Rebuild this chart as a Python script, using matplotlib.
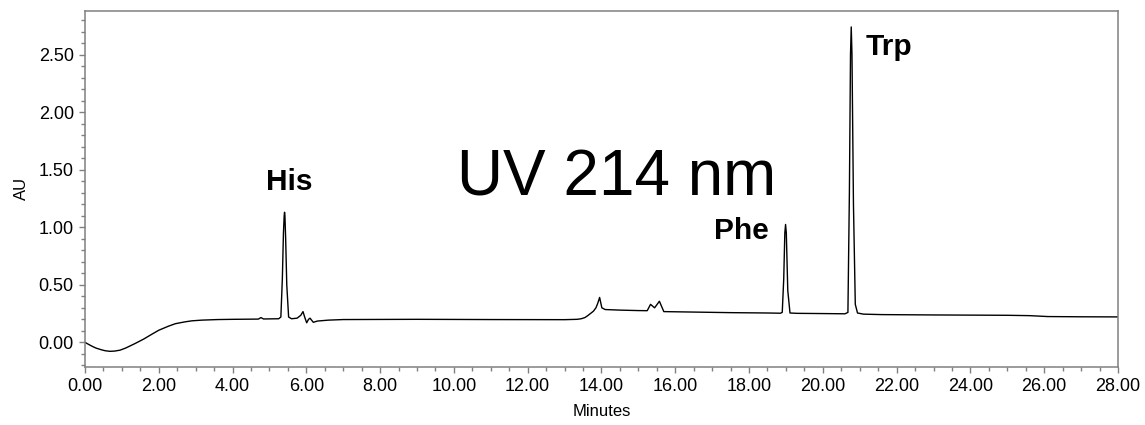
import matplotlib
matplotlib.use("Agg")
import matplotlib.pyplot as plt
from matplotlib.ticker import MultipleLocator, FormatStrFormatter

plt.rcParams['font.family'] = ['Liberation Sans', 'DejaVu Sans']

# chromatogram trace, UV 214 nm
minutes = [0.00, 0.10, 0.20, 0.30, 0.45, 0.55, 0.68, 0.80, 0.95, 1.10,
           1.36, 1.60, 1.81, 2.00, 2.26, 2.45, 2.71, 2.90, 3.17, 3.60,
           4.00, 4.70, 4.77, 4.84, 5.25, 5.31, 5.35, 5.38, 5.40, 5.41,
           5.42, 5.44, 5.47, 5.52, 5.60, 5.75, 5.85, 5.91, 5.96, 6.01,
           6.06, 6.10, 6.15, 6.19, 6.30, 6.60, 7.00, 9.00, 11.00, 13.00,
           13.34, 13.45, 13.55, 13.62, 13.70, 13.78, 13.85, 13.90, 13.95, 14.01,
           14.10, 14.50, 15.00, 15.24, 15.33, 15.44, 15.57, 15.69, 16.50, 17.50,
           18.50, 18.85, 18.90, 18.94, 18.97, 18.99, 19.01, 19.05, 19.11, 19.30,
           20.00, 20.60, 20.68, 20.72, 20.75, 20.77, 20.79, 20.83, 20.88, 20.94,
           21.10, 21.60, 23.00, 25.00, 25.60, 26.10, 27.00, 28.00]
au = [0.000, -0.018, -0.035, -0.050, -0.065, -0.073, -0.078, -0.076, -0.068, -0.050,
      -0.010, 0.030, 0.070, 0.105, 0.140, 0.162, 0.178, 0.187, 0.193, 0.198,
      0.200, 0.202, 0.215, 0.203, 0.205, 0.220, 0.550, 0.950, 1.100, 1.130,
      1.100, 0.900, 0.500, 0.220, 0.205, 0.210, 0.235, 0.267, 0.215, 0.170,
      0.200, 0.210, 0.190, 0.174, 0.185, 0.193, 0.198, 0.200, 0.198, 0.197,
      0.200, 0.205, 0.215, 0.230, 0.250, 0.270, 0.300, 0.340, 0.390, 0.300,
      0.285, 0.280, 0.276, 0.275, 0.330, 0.300, 0.357, 0.267, 0.263, 0.258,
      0.255, 0.253, 0.260, 0.550, 0.950, 1.024, 0.950, 0.450, 0.255, 0.252,
      0.250, 0.248, 0.260, 1.300, 2.500, 2.740, 2.500, 1.200, 0.330, 0.255,
      0.245, 0.241, 0.238, 0.235, 0.232, 0.224, 0.222, 0.221]

peak_names = ["His", "Phe", "Trp"]
peak_label_x = [5.53, 17.80, 21.78]
peak_label_y = [1.32, 0.90, 2.495]

fig = plt.figure(figsize=(11.45, 4.25), dpi=100)
ax = fig.add_axes([0.0742, 0.1376, 0.9022, 0.8364])

ax.plot(minutes, au, color='black', lw=1.0)

for name, x, y in zip(peak_names, peak_label_x, peak_label_y):
    ax.text(x, y, name, fontsize=21.5, fontweight='bold', ha='center', va='baseline')

ax.text(14.4, 1.277, "UV 214 nm", fontsize=46, ha='center', va='baseline')

ax.set_xlim(0, 28)
ax.set_ylim(-0.21, 2.878)
ax.xaxis.set_major_locator(MultipleLocator(2))
ax.xaxis.set_minor_locator(MultipleLocator(0.5))
ax.yaxis.set_major_locator(MultipleLocator(0.5))
ax.yaxis.set_minor_locator(MultipleLocator(0.1))
ax.xaxis.set_major_formatter(FormatStrFormatter('%.2f'))
ax.yaxis.set_major_formatter(FormatStrFormatter('%.2f'))

for s in ax.spines.values():
    s.set_color('#808080')
    s.set_linewidth(1.1)
ax.tick_params(which='both', direction='out', color='#808080', labelsize=13)
ax.tick_params(which='major', length=4.5, width=1.0)
ax.tick_params(which='minor', length=3, width=1.0)

ax.set_xlabel("Minutes", fontsize=12, labelpad=7)
ax.set_ylabel("AU", fontsize=12, labelpad=7)

fig.savefig("out.png", dpi=100)
